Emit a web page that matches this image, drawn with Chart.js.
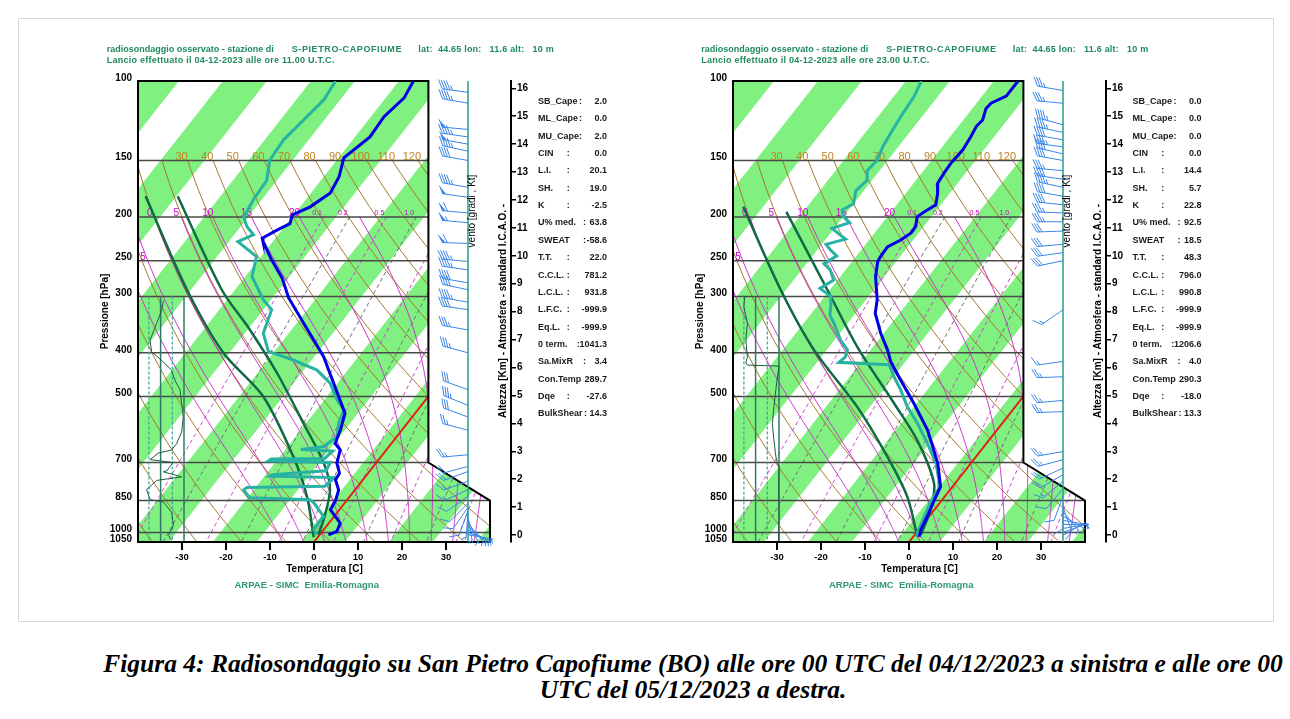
<!DOCTYPE html>
<html><head><meta charset="utf-8">
<script src="https://cdn.jsdelivr.net/npm/chart.js@4.4.1/dist/chart.umd.min.js"></script>
<style>
body{margin:0;background:#fff;width:1290px;height:719px;position:relative;overflow:hidden;font-family:"Liberation Sans",Arial,sans-serif;}
.frame{position:absolute;left:18px;top:18px;width:1254px;height:602px;border:1px solid #d9d9d9;}
canvas{position:absolute;}
.t{position:absolute;white-space:pre;font-weight:bold;line-height:1;}
.hdr{font-size:9px;color:#1f8a5c;}
.st{font-size:9px;color:#1a1a1a;}
.rot{position:absolute;white-space:nowrap;font-weight:bold;font-size:10px;color:#000;transform:translate(-50%,-50%) rotate(-90deg);line-height:1;}
.foot{font-size:9.5px;color:#2e9a6e;transform:translateX(-50%);}
.cap{position:absolute;left:100px;width:1186px;top:651px;text-align:center;font-family:"Liberation Serif","Times New Roman",serif;font-weight:bold;font-style:italic;font-size:25.5px;line-height:26px;color:#000;white-space:nowrap;}
</style></head>
<body>
<div class="frame"></div>
<canvas id="c0" width="511" height="542" style="left:30px;top:40px"></canvas>
<canvas id="c1" width="511" height="542" style="left:625px;top:40px"></canvas>
<div id="txt"></div>
<div class="cap">Figura 4: Radiosondaggio su San Pietro Capofiume (BO) alle ore 00 UTC del 04/12/2023 a sinistra e alle ore 00<br>UTC del 05/12/2023 a destra.</div>
<script>
// ---------- axis / reference values ----------
const pTicks=[100,150,200,250,300,400,500,700,850,1000,1050];
const isobars=[150,200,250,300,400,500,700,850,1000];
const tTicks=[-30,-20,-10,0,10,20,30];
const altTicks=[0,1,2,3,4,5,6,7,8,9,10,11,12,13,14,15,16];
const dryTheta=[-40,-30,-20,-10,0,10,20,30,40,50,60,70,80,90,100,110,120];
const dryLabels=[30,40,50,60,70,80,90,100,110,120];
const moistThw=[-10,-5,0,5,10,15,20,25,30,35,40];
const moistLabels=[0,5,10,15,20];
const mixW=[0.1,0.2,0.5,1,2,3,5,8,12,20,30];
const mixLabels=[0.1,0.2,0.5,1.0];
const bandStarts=[-143,-123,-103,-83,-63,-43,-23,-3,17,37,57];
const rhGuides=[10,40,70,100];
const statNames=['SB_Cape','ML_Cape','MU_Cape','CIN','L.I.','SH.','K','U% med.','SWEAT','T.T.','C.C.L.','L.C.L.','L.F.C.','Eq.L.','0 term.','Sa.MixR','Con.Temp','Dqe','BulkShear'];

// ---------- sounding 04-12-2023 (left) ----------
const L_tP=[100,109,120,133,148,163,177,190,198,207,214,223,227,249,273,302,344,408,467,545,593,635,656,702,739,765,805,850,891,954,995,1012];
const L_tT=[-59.7,-58.8,-60,-59.6,-61.8,-59.5,-58.6,-60.7,-63.3,-62.3,-64.1,-66,-65.2,-60,-54.4,-49.4,-41.4,-30.9,-23.9,-15.9,-14,-12.8,-10.5,-8.9,-6.5,-6.2,-3.7,-2.5,-2.0,2.6,3.3,2.0];
const L_dP=[100,110,122,135,150,166,183,200,210,219,227,245,271,305,321,362,397,415,437,467,508,535,573,613,645,655,660,686,688,694,700,730,745,750,756,790,795,805,838,846,860,922,985,1012];
const L_dT=[-77.4,-76.7,-77.7,-78.7,-78.2,-75.3,-74.9,-74,-71.6,-68.6,-70.9,-64,-61.5,-54.8,-51.1,-48.8,-44.4,-37.2,-30,-24.7,-20.2,-16.8,-15.6,-13.6,-14.8,-19.5,-12,-12.5,-24.5,-24.8,-10.5,-10,-21.5,-21.8,-6.9,-7.5,-25,-25.3,-22.5,-8.5,-7,-2.4,-2.3,-0.6];
const L_aP=[180,290,400,500,680,833,1025];
const L_aT=[-100,-73.9,-54.4,-37.5,-19.9,-9.7,-0.9];
const L_bP=[180,290,356,444,574,703,804,937,1012];
const L_bT=[-92.7,-66,-52.4,-38.5,-23.5,-11.8,-5.7,-1.8,-0.3];
const L_rhP=[306,322,344,375,398,416,437,461,484,518,556,599,636,657,667,690,700,730,734,753,767,804,846,856,902,965,1016,1042];
const L_rh=[47,43,30,13,17,43,68,77,90,94,98,94,81,68,34,13,72,56,47,94,30,4,13,47,68,73,60,68];
const L_wP=[106,112,128,133,138,143,150,172,181,196,206,229,251,262,280,290,309,321,356,400,483,523,555,594,673,714,733,770,804,832,862,880,895,910,925,940,955,970,985,1000,1012];
const L_wD=[278,280,275,278,280,282,280,280,278,275,275,272,275,278,280,282,280,278,280,285,290,292,290,285,265,255,250,250,245,235,225,215,200,185,170,155,140,130,120,110,100];
const L_wS=[45,45,50,45,50,45,40,45,50,60,55,60,45,45,40,40,45,40,35,35,30,35,30,25,25,20,20,15,15,10,10,8,8,6,6,6,5,5,5,4,4];
const L_stats=['2.0','0.0','2.0','0.0','20.1','19.0','-2.5','63.8','-58.6','22.0','781.2','931.8','-999.9','-999.9','1041.3','3.4','289.7','-27.6','14.3'];

// ---------- sounding 05-12-2023 (right) ----------
const R_tP=[100,108,112,115,122,126,133,142,152,160,169,177,188,195,200,210,217,225,233,245,251,271,305,327,362,394,418,459,518,594,703,792,850,922,987,1022];
const R_tT=[-57.5,-57.5,-59.7,-59.9,-58.6,-58.9,-58.3,-57.8,-58.1,-57.9,-57.5,-55.8,-54.1,-55.5,-56.2,-54.8,-54.7,-55.8,-57.6,-57.4,-57.2,-55,-50.5,-48.5,-43.7,-39.2,-36.4,-30.9,-23.6,-15.7,-7.5,-2.7,-1.7,-0.4,0.5,1.4];
const R_dP=[100,108,120,133,140,150,158,166,175,187,193,200,206,212,217,224,230,237,244,254,262,276,288,300,316,330,344,375,394,409,420,425,452,482,526,574,635,703,765,798,860,937,1004,1022];
const R_dT=[-79.5,-78.4,-77.8,-77,-76.5,-75.4,-75.8,-74.1,-74.8,-73,-74.5,-72.9,-70.5,-73.5,-71.4,-68.5,-72,-69.9,-67.5,-69,-66.5,-63.9,-65.5,-61.6,-59.8,-58.5,-56.1,-51.6,-48.3,-47.5,-48,-36.2,-32.9,-29.2,-24.6,-19.2,-13.4,-7.9,-4.3,-2.8,-2.2,-0.8,0.3,1.1];
const R_aP=[190,290,394,527,680,833,1025];
const R_aT=[-97.5,-74.2,-55.9,-35.9,-20.1,-8.5,1.1];
const R_bP=[195,290,388,518,626,780,893,1012];
const R_bT=[-86.8,-63.6,-46.6,-28.1,-16.2,-4.7,-0.8,1.4];
const R_rhP=[300,316,344,375,409,420,426,428,452,482,526,574,625,680,720,800,900,1000,1045];
const R_rh=[12,10,19,15,19,15,19,100,96,92,87,83,87,92,100,99,100,99,99];
const R_wP=[105,112,125,130,135,140,145,150,158,165,172,180,188,196,205,215,230,240,250,321,418,452,510,540,662,690,720,745,770,800,830,860,880,900,920,940,960,980,1000,1015];
const R_wD=[280,275,285,282,280,278,283,280,275,278,282,280,276,272,270,268,265,262,258,235,262,268,265,268,260,255,245,240,230,220,200,180,160,140,120,100,90,80,70,60];
const R_wS=[35,35,45,45,40,45,40,40,35,40,45,40,40,35,35,30,30,30,30,15,15,25,25,25,25,25,20,20,15,12,10,8,8,6,6,5,5,5,4,4];
const R_stats=['0.0','0.0','0.0','0.0','14.4','5.7','22.8','92.5','18.5','48.3','796.0','990.8','-999.9','-999.9','1206.6','4.0','290.3','-18.0','13.3'];

const headers=[
 {st:'S-PIETRO-CAPOFIUME',pos:'lat:  44.65 lon:   11.6 alt:   10 m',launch:'Lancio effettuato il 04-12-2023 alle ore 11.00 U.T.C.'},
 {st:'S-PIETRO-CAPOFIUME',pos:'lat:  44.65 lon:   11.6 alt:   10 m',launch:'Lancio effettuato il 04-12-2023 alle ore 23.00 U.T.C.'}
];

// ---------- diagram constants ----------
const S=35, PB=1050;
const skx=(T,p)=>T+S*Math.log(PB/p);
function satMix(Tk,p){const es=6.112*Math.exp(17.67*(Tk-273.15)/(Tk-29.65));return 0.622*es/(p-es);}
function lapse(Tk,p){const rs=satMix(Tk,p),Rd=287.04,Cp=1005.7,Lv=2.501e6,eps=0.622;return (Rd*Tk+Lv*rs)/(p*(Cp+Lv*Lv*rs*eps/(Rd*Tk*Tk)));}
function moistCurve(thw){
  let T=thw+273.15,p=1000;const up=[[1000,T]];
  while(p>200){const dp=-5;const k1=lapse(T,p),k2=lapse(T+k1*dp,p+dp);T+=(k1+k2)/2*dp;p+=dp;up.push([p,T]);}
  T=thw+273.15;p=1000;const dn=[];
  while(p<1050){const dp=5;const k1=lapse(T,p),k2=lapse(T+k1*dp,p+dp);T+=(k1+k2)/2*dp;p+=dp;dn.push([p,T]);}
  return dn.reverse().concat(up).map(a=>[a[0],a[1]-273.15]);
}
function mixTd(w,p){const e=w*p/(622+w);const l=Math.log(e/6.112);return 243.5*l/(17.67-l);}

function geom(chart){
  const x=chart.scales.x,y=chart.scales.y;
  return {xL:x.getPixelForValue(-40),xR1:x.getPixelForValue(26),xR2:x.getPixelForValue(40),
    yT:y.getPixelForValue(100),yB:y.getPixelForValue(1050),y7:y.getPixelForValue(700),y85:y.getPixelForValue(850)};
}
function polyPath(ctx,g){ctx.beginPath();ctx.moveTo(g.xL,g.yT);ctx.lineTo(g.xR1,g.yT);ctx.lineTo(g.xR1,g.y7);ctx.lineTo(g.xR2,g.y85);ctx.lineTo(g.xR2,g.yB);ctx.lineTo(g.xL,g.yB);ctx.closePath();}

function drawBarb(ctx,x0,y0,dir,spd){
  const L=26,th=dir*Math.PI/180,ux=Math.sin(th),uy=-Math.cos(th);
  const tx=x0+ux*L,ty=y0+uy*L;
  ctx.beginPath();ctx.moveTo(x0,y0);ctx.lineTo(tx,ty);ctx.stroke();
  const a=60*Math.PI/180,fx=ux*Math.cos(a)-uy*Math.sin(a),fy=ux*Math.sin(a)+uy*Math.cos(a);
  let s=Math.round(spd/5)*5,pos=0;const FL=10,gap=2.6;
  while(s>=50){const bx=tx-ux*pos,by=ty-uy*pos,cx=tx-ux*(pos+4),cy=ty-uy*(pos+4);
    ctx.beginPath();ctx.moveTo(bx,by);ctx.lineTo(bx+fx*FL,by+fy*FL);ctx.lineTo(cx,cy);ctx.closePath();ctx.fill();pos+=5.5;s-=50;}
  while(s>=10){const bx=tx-ux*pos,by=ty-uy*pos;ctx.beginPath();ctx.moveTo(bx,by);ctx.lineTo(bx+fx*FL,by+fy*FL);ctx.stroke();pos+=gap;s-=10;}
  if(s>=5){if(pos===0)pos=gap;const bx=tx-ux*pos,by=ty-uy*pos;ctx.beginPath();ctx.moveTo(bx,by);ctx.lineTo(bx+fx*FL/2,by+fy*FL/2);ctx.stroke();}
}

const skewPlugin={
 id:'skew',
 beforeDatasetsDraw(chart){
  const ctx=chart.ctx,x=chart.scales.x,y=chart.scales.y,xr=chart.scales.xrh;
  const X=(T,p)=>x.getPixelForValue(skx(T,p)),Y=p=>y.getPixelForValue(p);
  const g=geom(chart);
  ctx.save();
  polyPath(ctx,g);ctx.fillStyle='#fff';ctx.fill();ctx.clip();
  ctx.fillStyle='#80f080';
  bandStarts.forEach(a=>{const b=a+10;ctx.beginPath();ctx.moveTo(X(a,100),g.yT);ctx.lineTo(X(b,100),g.yT);ctx.lineTo(X(b,1050),g.yB);ctx.lineTo(X(a,1050),g.yB);ctx.closePath();ctx.fill();});
  ctx.strokeStyle='#a5782c';ctx.lineWidth=1;
  dryTheta.forEach(th=>{ctx.beginPath();for(let p=150;p<=1050;p+=10){const T=(th+273.15)*Math.pow(p/1000,0.2857)-273.15;const px=X(T,p),py=Y(p);p===150?ctx.moveTo(px,py):ctx.lineTo(px,py);}ctx.stroke();});
  ctx.strokeStyle='#cc30cc';ctx.lineWidth=1;
  const moist={};
  moistThw.forEach(t=>{const c=moistCurve(t);moist[t]=c;ctx.beginPath();c.forEach((a,i)=>{const px=X(a[1],a[0]),py=Y(a[0]);i?ctx.lineTo(px,py):ctx.moveTo(px,py);});ctx.stroke();});
  ctx.lineWidth=1;ctx.setLineDash([4,3]);
  mixW.forEach((w,i)=>{ctx.strokeStyle=i%2?'#6e6e6e':'#cc40cc';ctx.beginPath();for(let p=200;p<=1050;p+=10){const px=X(mixTd(w,p),p),py=Y(p);p===200?ctx.moveTo(px,py):ctx.lineTo(px,py);}ctx.stroke();});
  ctx.setLineDash([]);
  ctx.strokeStyle='#4a4a4a';ctx.lineWidth=1.5;
  isobars.forEach(p=>{ctx.beginPath();ctx.moveTo(g.xL,Y(p));ctx.lineTo(g.xR2,Y(p));ctx.stroke();});
  ctx.strokeStyle='#e02010';ctx.lineWidth=2;ctx.beginPath();ctx.moveTo(X(0,1050),Y(1050));ctx.lineTo(X(0,100),Y(100));ctx.stroke();
  ctx.textAlign='center';ctx.textBaseline='middle';
  ctx.fillStyle='#c08020';ctx.font='11px "Liberation Sans", Arial';
  dryLabels.forEach(th=>{const T=(th+273.15)*Math.pow(0.15,0.2857)-273.15;ctx.fillText(String(th),X(T,150)-6,Y(150)-4);});
  ctx.fillStyle='#cc00cc';ctx.font='10px "Liberation Sans", Arial';
  moistLabels.forEach(t=>{const c=moist[t];const a=c[c.length-1];ctx.fillText(String(t),X(a[1],a[0])-5,Y(200)-4);});
  ctx.fillText('5',g.xL+5,Y(250)-3);
  ctx.font='7px "Liberation Sans", Arial';
  mixLabels.forEach(w=>{ctx.fillText(w.toFixed(1),X(mixTd(w,200),200)-7,Y(200)-4);});
  rhGuides.forEach((v,i)=>{const px=xr.getPixelForValue(v);ctx.strokeStyle=i%2?'#2f7a66':'#35a595';ctx.lineWidth=i%2?1.5:1.2;ctx.setLineDash(i%2?[]:[3,2]);ctx.beginPath();ctx.moveTo(px,Y(300));ctx.lineTo(px,g.yB);ctx.stroke();});
  ctx.setLineDash([]);
  ctx.restore();
  ctx.save();polyPath(ctx,g);ctx.strokeStyle='#000';ctx.lineWidth=2;ctx.stroke();ctx.restore();
 },
 afterDatasetsDraw(chart){
  if(!chart.$wind)return;
  const ctx=chart.ctx,x=chart.scales.x,y=chart.scales.y,g=geom(chart),w=chart.$wind;
  const ax=x.getPixelForValue(35);
  ctx.save();
  ctx.strokeStyle='#2a9d8f';ctx.lineWidth=1.5;ctx.beginPath();ctx.moveTo(ax,g.yT);ctx.lineTo(ax,g.yB);ctx.stroke();
  ctx.strokeStyle='#3a86e8';ctx.fillStyle='#3a86e8';ctx.lineWidth=1;
  w.p.forEach((p,i)=>drawBarb(ctx,ax,y.getPixelForValue(p),w.d[i],w.s[i]));
  ctx.restore();
 }
};

function pts(P,T){return P.map((p,i)=>({x:skx(T[i],p),y:p}));}
function build(id,s){
  const line=(data,color,width,order,extra)=>Object.assign({data,borderColor:color,borderWidth:width,order,showLine:true,pointRadius:0,fill:false},extra||{});
  const ch=new Chart(document.getElementById(id),{
    type:'scatter',
    data:{datasets:[
      line(pts(s.tP,s.tT),'#0000e6',3,0),
      line(pts(s.dP,s.dT),'#27b2a3',3,1),
      line(pts(s.aP,s.aT),'#0e6b45',2.5,2,{tension:0.3}),
      line(pts(s.bP,s.bT),'#0e6b45',2.5,2,{tension:0.3}),
      line(s.rhP.map((p,i)=>({x:s.rh[i],y:p})),'#1f5e44',1,3,{xAxisID:'xrh'})
    ]},
    options:{
      responsive:false,animation:false,events:[],
      layout:{padding:{top:41,left:0,right:0,bottom:0}},
      plugins:{legend:{display:false},tooltip:{enabled:false}},
      scales:{
        x:{type:'linear',position:'bottom',min:-40,max:44.77,
          afterBuildTicks:sc=>{sc.ticks=tTicks.map(v=>({value:v}));},afterFit:sc=>{sc.height=40;},
          grid:{drawOnChartArea:false,drawTicks:true,tickLength:8,color:'#000',lineWidth:2},border:{display:false},
          ticks:{font:{size:9.5,weight:'bold'},color:'#000',padding:2,autoSkip:false,maxRotation:0},
          title:{display:true,text:'Temperatura [C]',font:{size:10,weight:'bold'},color:'#000',padding:{top:0,bottom:7}}},
        xrh:{type:'linear',axis:'x',position:'bottom',display:false,min:-17.95,max:938.46},
        y:{type:'logarithmic',position:'left',reverse:true,min:100,max:1050,
          afterBuildTicks:sc=>{sc.ticks=pTicks.map(v=>({value:v}));},afterFit:sc=>{sc.width=108;},
          grid:{display:false,drawTicks:false},border:{display:false},
          ticks:{callback:v=>String(v),font:{size:10,weight:'bold'},color:'#000',padding:6,labelOffset:-3,autoSkip:false},
          title:{display:true,text:'Pressione [hPa]',font:{size:10,weight:'bold'},color:'#000',padding:{top:69,bottom:0}}},
        yalt:{type:'linear',axis:'y',position:'right',min:-0.25,max:16.26,
          afterBuildTicks:sc=>{sc.ticks=altTicks.map(v=>({value:v}));},afterFit:sc=>{sc.width=30;},
          grid:{drawOnChartArea:false,drawTicks:true,tickLength:5,color:'#000',lineWidth:1.5},border:{display:true,color:'#000',width:2},
          ticks:{callback:v=>String(v),font:{size:10,weight:'bold'},color:'#000',padding:1,autoSkip:false}}
      }
    },
    plugins:[skewPlugin]
  });
  ch.$wind={p:s.wP,d:s.wD,s:s.wS};
  ch.draw();
  return ch;
}
Chart.defaults.font.family='"Liberation Sans", Arial, sans-serif';
const sets=[
 {tP:L_tP,tT:L_tT,dP:L_dP,dT:L_dT,aP:L_aP,aT:L_aT,bP:L_bP,bT:L_bT,rhP:L_rhP,rh:L_rh,wP:L_wP,wD:L_wD,wS:L_wS},
 {tP:R_tP,tT:R_tT,dP:R_dP,dT:R_dT,aP:R_aP,aT:R_aT,bP:R_bP,bT:R_bT,rhP:R_rhP,rh:R_rh,wP:R_wP,wD:R_wD,wS:R_wS}
];
build('c0',sets[0]);build('c1',sets[1]);

// ---------- html text ----------
const colonOff=[41,41,41,28.7,28.7,28.7,28.7,45,45,28.7,28.7,28.7,28.7,28.7,38.7,45,48.7,28.7,46];
const txt=document.getElementById('txt');
function add(cls,text,css){const d=document.createElement('div');d.className=cls;d.textContent=text;Object.assign(d.style,css);txt.appendChild(d);return d;}
[L_stats,R_stats].forEach((vals,k)=>{
  const dx=k*594.5,h=headers[k];
  add('t hdr','radiosondaggio osservato - stazione di',{left:(106.7+dx)+'px',top:'45px'});
  add('t hdr',h.st,{left:(291.7+dx)+'px',top:'45px',letterSpacing:'0.6px'});
  add('t hdr',h.pos,{left:(418.3+dx)+'px',top:'45px',letterSpacing:'0.2px'});
  add('t hdr',h.launch,{left:(106.7+dx)+'px',top:'56px',letterSpacing:'0.25px'});
  statNames.forEach((n,i)=>{
    const yc=101.7+i*17.35-4.7;
    add('t st',n,{left:(538+dx)+'px',top:yc+'px'});
    add('t st',':',{left:(538+dx+colonOff[i])+'px',top:yc+'px'});
    add('t st',vals[i],{left:(538+dx+38)+'px',top:yc+'px',width:'31px',textAlign:'right'});
  });
  add('rot','Altezza [Km] - Atmosfera - standard I.C.A.O. -',{left:(503+dx)+'px',top:'311px'});
  const r=add('rot','vento  [gradi , Kt]',{left:(472+dx)+'px',top:'211px'});r.style.fontWeight='normal';
  add('t foot','ARPAE - SIMC  Emilia-Romagna',{left:(306.7+dx)+'px',top:'580px'});
});
</script>
</body></html>
